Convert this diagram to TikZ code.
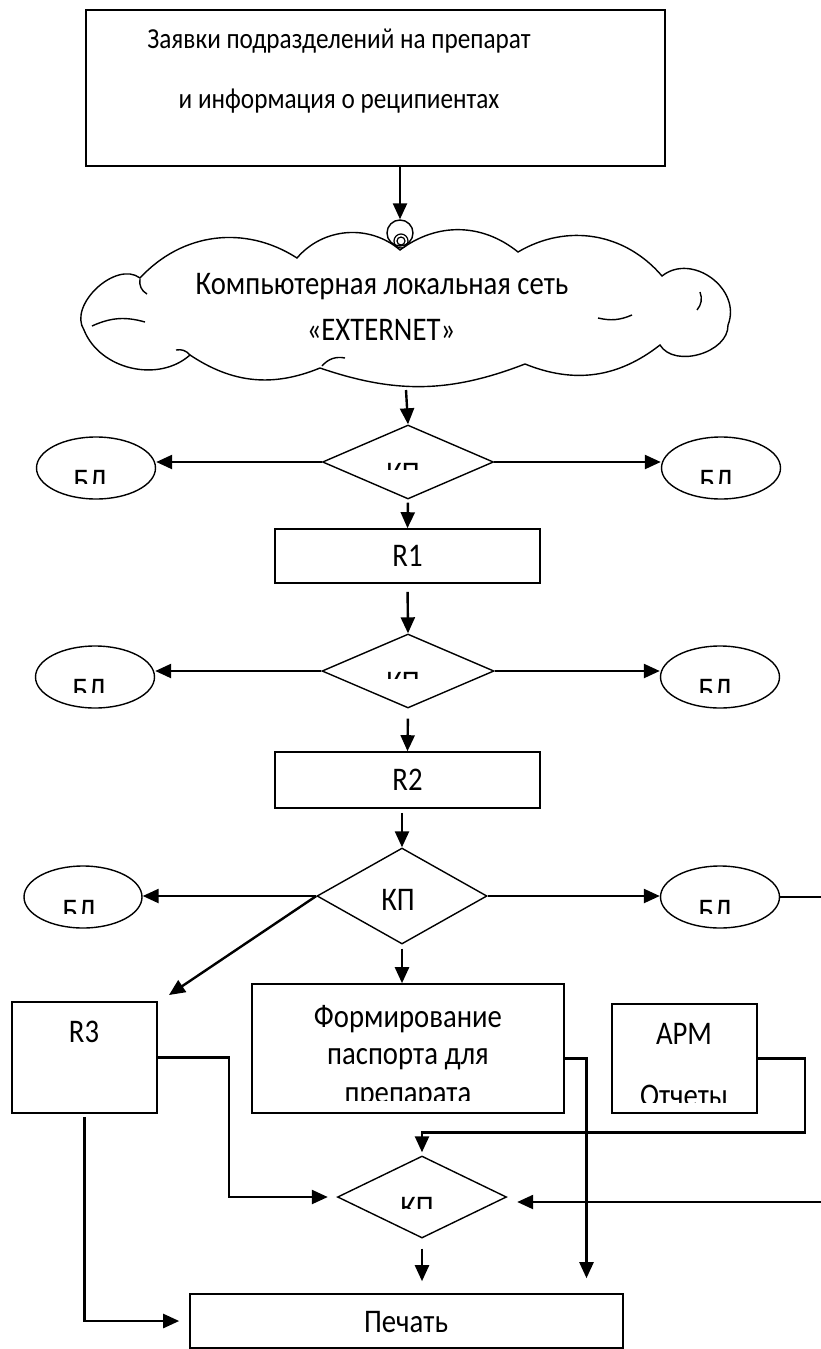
\documentclass[tikz,border=0pt]{standalone}
\usepackage{fontspec}
\setmainfont{Carlito}[FakeStretch=0.87]
\usetikzlibrary{arrows.meta,positioning,shapes.geometric}
\tikzset{
  box/.style={draw=black,line width=1.6pt,inner sep=0pt,font=\fontsize{33}{38}\selectfont},
  kp/.style={diamond,draw=black,line width=1.4pt,inner sep=0pt},
  bl/.style={ellipse,draw=black,line width=1.4pt,inner sep=0pt,minimum width=119pt,minimum height=62pt},
  txt/.style={font=\fontsize{33}{38}\selectfont,inner sep=0pt,anchor=base},
  arr/.style={-{Triangle[length=16pt,width=14pt]},line width=2.4pt},
  ln/.style={line width=2pt},
  cl/.style={draw=black,line width=1.4pt},
}

\begin{document}
\begin{tikzpicture}[x=1pt,y=-1pt,line join=miter]
\useasboundingbox (0,0) rectangle (821,1349);

% requests and network
\node[box,minimum width=579pt,minimum height=156pt] (req) at (375.5,88) {};
\node[txt,font=\fontsize{29}{34}\selectfont] (reqa) at (339,48) {Заявки подразделений на препарат};
\node[txt,font=\fontsize{29}{34}\selectfont] (reqb) at (339,108) {и информация о реципиентах};
% cloud outline and its inner arcs
\draw[cl] (84,330) to[bend left=80] (140,278) to[bend left=40] (297,258)
  to[bend left=45] (400,250) to[bend left=38] (518,252) to[bend left=40] (662,276)
  to[bend left=75,looseness=1.2] (728,325) to[bend left=75] (660,345)
  to[bend left=30] (525,364) to[bend left=20] (320,368) to[bend left=28] (190,355)
  to[bend left=55] (84,330) -- cycle;
\draw[cl] (92,326) to[bend left=20] (145,322)
  (140,279) to[bend right=35] (147,294)
  (700,292) to[bend left=30] (697,310)
  (598,318) to[bend right=18] (632,315)
  (322,366) to[bend left=30] (345,358)
  (190,355) to[bend right=30] (176,350);
\node[txt] (neta) at (382,294) {Компьютерная локальная сеть};
\node[txt] (netb) at (381,340) {«EXTERNET»};
\node[circle,draw=black,line width=1.4pt,minimum size=26pt,inner sep=0pt] (hub) at (400,233) {};
\draw[line width=1.2pt] (401,241) circle (7pt) (401,241) circle (4pt);
\draw[arr] (req.south -| hub.north) -- (hub.north);
\coordinate (netout) at (406,390);

% first control point
\node[kp,minimum width=171pt,minimum height=74pt] (kp1) at (408,462) {};
\node[bl] (bl1l) at (96,468) {};
\node[bl] (bl1r) at (721,468) {};
\draw[arr] (netout) -- (kp1.north);
\draw[arr] (kp1.west) -- (kp1.west -| bl1l.east);
\draw[arr] (kp1.east) -- (kp1.east -| bl1r.west);
\begin{scope}
  \clip (0,440) rectangle (821,469);
  \node[txt] (kp1t) at (403,484.5) {КП};
\end{scope}
\begin{scope}
  \clip (0,440) rectangle (821,483);
  \node[txt] (bl1lt) at (90,491.5) {БЛ};
  \node[txt] (bl1rt) at (716,491.5) {БЛ};
\end{scope}

\node[box,minimum width=265pt,minimum height=54pt] (r1) at (407.5,556) {R1};
\draw[arr,shorten <=3pt] (kp1.south) -- (r1.north);

% second control point
\node[kp,minimum width=172pt,minimum height=74pt] (kp2) at (408,671) {};
\node[bl] (bl2l) at (95,677) {};
\node[bl] (bl2r) at (720,677) {};
\draw[arr,shorten <=8pt] (r1.south) -- (kp2.north);
\draw[arr] (kp2.west) -- (kp2.west -| bl2l.east);
\draw[arr] (kp2.east) -- (kp2.east -| bl2r.west);
\begin{scope}
  \clip (0,650) rectangle (821,678);
  \node[txt] (kp2t) at (403,693.5) {КП};
\end{scope}
\begin{scope}
  \clip (0,650) rectangle (821,692);
  \node[txt] (bl2lt) at (89,700.5) {БЛ};
  \node[txt] (bl2rt) at (715,700.5) {БЛ};
\end{scope}

\node[box,minimum width=265pt,minimum height=56pt] (r2) at (407.5,780) {R2};
\draw[arr,shorten <=10pt] (kp2.south) -- (r2.north);

% third control point
\node[kp,minimum width=170pt,minimum height=96pt] (kp3) at (402,896) {};
\node[txt] (kp3t) at (398,910) {КП};
\node[bl,minimum width=118pt] (bl3l) at (83,897) {};
\node[bl] (bl3r) at (720,897) {};
\coordinate (eR) at (821,897);
\draw[arr,shorten <=4pt] (r2.south -| kp3.north) -- (kp3.north);
\draw[arr] (kp3.west) -- (kp3.west -| bl3l.east);
\draw[arr] (kp3.east) -- (kp3.east -| bl3r.west);
\draw[ln] (bl3r.east) -- (eR);
\begin{scope}
  \clip (0,880) rectangle (821,913);
  \node[txt] (bl3lt) at (79,921.5) {БЛ};
  \node[txt] (bl3rt) at (715,921.5) {БЛ};
\end{scope}

% lower blocks
\node[box,minimum width=145pt,minimum height=111pt] (r3) at (84.5,1057.5) {};
\node[txt] (r3t) at (84,1042) {R3};
\node[box,minimum width=312pt,minimum height=129pt] (form) at (408,1048.5) {};
\node[txt] (forma) at (408,1027) {Формирование};
\node[txt] (formb) at (408,1064) {паспорта для};
\node[box,minimum width=145pt,minimum height=109pt] (arm) at (684.5,1058.5) {};
\node[txt] (armt) at (684,1044) {АРМ};
\begin{scope}
  \clip (0,1070) rectangle (821,1100);
  \node[txt] (formc) at (408,1103) {препарата};
\end{scope}
\begin{scope}
  \clip (0,1070) rectangle (821,1102);
  \node[txt] (armb) at (684,1106) {Отчеты};
\end{scope}
\coordinate (r3in) at (169,995);
\draw[arr] (kp3.west) -- (r3in);
\draw[arr,shorten <=4pt] (kp3.south) -- (kp3.south |- form.north);

% last control point and print
\node[kp,minimum width=169pt,minimum height=82pt] (kp4) at (422,1197) {};
\begin{scope}
  \clip (380,1180) rectangle (460,1208);
  \node[txt] (kp4t) at (417,1218.5) {КП};
\end{scope}
\node[box,minimum width=433pt,minimum height=54pt] (print) at (406.5,1321) {};
\node[txt] (printt) at (406,1332) {Печать};
\coordinate (eB) at (821,1202);
\draw[arr,shorten >=9pt] (r3.east) -- ++(71,0) |- (kp4.west);
\draw[arr,shorten <=3pt,shorten >=10pt] (r3.south) |- (print.west);
\draw[arr,shorten >=15pt] ([yshift=-10pt]form.east) -| ([xshift=180pt]print.north);
\draw[arr,shorten >=3pt] (arm.east) -- ++(47,0) -- ++(0,74) -| (kp4.north);
\draw[arr,shorten >=10pt] (eB) -- (eB -| kp4.east);
\draw[arr,shorten <=10pt,shorten >=12pt] (kp4.south) -- (kp4.south |- print.north);
\end{tikzpicture}
\end{document}
